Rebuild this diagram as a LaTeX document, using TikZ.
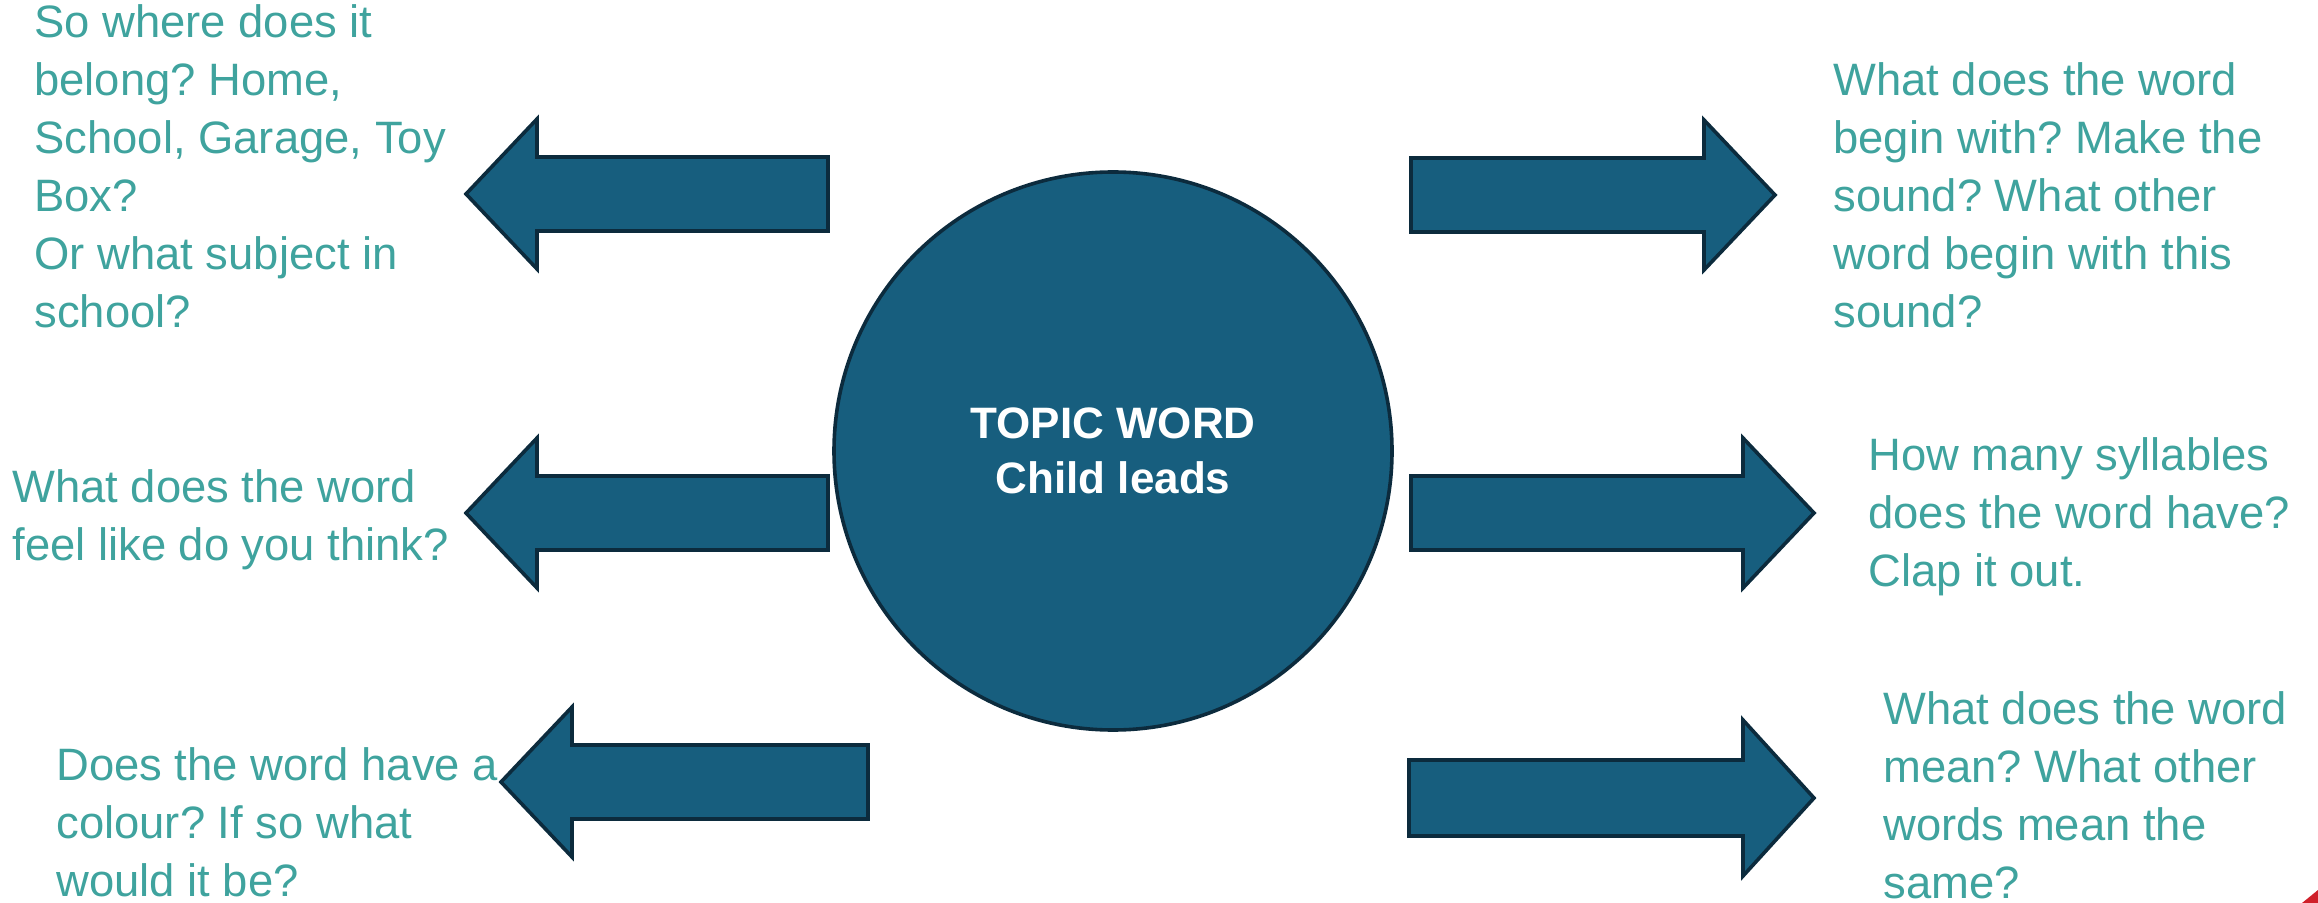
\documentclass[tikz,border=0pt]{standalone}
\usepackage{fontspec}
\setmainfont{Liberation Sans}
\usepackage{tikz}
\frenchspacing
\definecolor{wordblue}{RGB}{23,94,126}
\definecolor{wordedge}{RGB}{12,43,61}
\definecolor{qteal}{RGB}{63,163,158}
\definecolor{markred}{RGB}{208,32,42}
\tikzset{
	blockarrow/.style={fill=wordblue,draw=wordedge,line width=1.8pt,line join=miter},
	% placed by the baseline of the last line
	question/.style={anchor=base west,align=left,inner sep=0pt,text=qteal,font=\fontsize{22.7}{29}\selectfont}
}
% block arrow: tail x, head base x, tip x, mid y, shaft half, head half
\newcommand{\barrow}[6]{%
	\draw[blockarrow] ({#1},{#4-#5}) -- ({#2},{#4-#5}) -- ({#2},{#4-#6}) -- ({#3},{#4})
	-- ({#2},{#4+#6}) -- ({#2},{#4+#5}) -- ({#1},{#4+#5}) -- cycle;}

\begin{document}
\begin{tikzpicture}[x=0.5pt,y=-0.5pt]
	\useasboundingbox (0,0) rectangle (2318,903);
	\node (topic) [circle,fill=wordblue,draw=wordedge,line width=1.8pt,minimum size=279pt,
		text=white,align=center,font=\bfseries\fontsize{22}{27.3}\selectfont] at (1113,451)
		{TOPIC WORD\\Child leads};
	% arrows to the left
	\barrow{828}{537}{466}{194}{37}{75}
	\barrow{828}{537}{466}{513}{37}{75}
	\barrow{868}{572}{501}{782}{37}{75}
	% arrows to the right
	\barrow{1411}{1704}{1775}{195}{37}{75}
	\barrow{1411}{1743}{1814}{513}{37}{75}
	\barrow{1409}{1743}{1814}{798}{38}{78}
	% questions
	\node (where) [question] at (34,328) {So where does it\\belong? Home,\\School, Garage, Toy\\Box?\\Or what subject in\\school?};
	\node (feel) [question] at (12,560) {What does the word\\feel like do you think?};
	\node (colour) [question] at (56,896) {Does the word have a\\colour? If so what\\would it be?};
	\node (begin) [question] at (1833,328) {What does the word\\begin with? Make the\\sound? What other\\word begin with this\\sound?};
	\node (syll) [question] at (1868,586) {How many syllables\\does the word have?\\Clap it out.};
	\node (mean) [question] at (1883,898) {What does the word\\mean? What other\\words mean the\\same?};
	\fill[markred] (2302,903) -- (2318,890) -- (2318,903) -- cycle;
\end{tikzpicture}
\end{document}
